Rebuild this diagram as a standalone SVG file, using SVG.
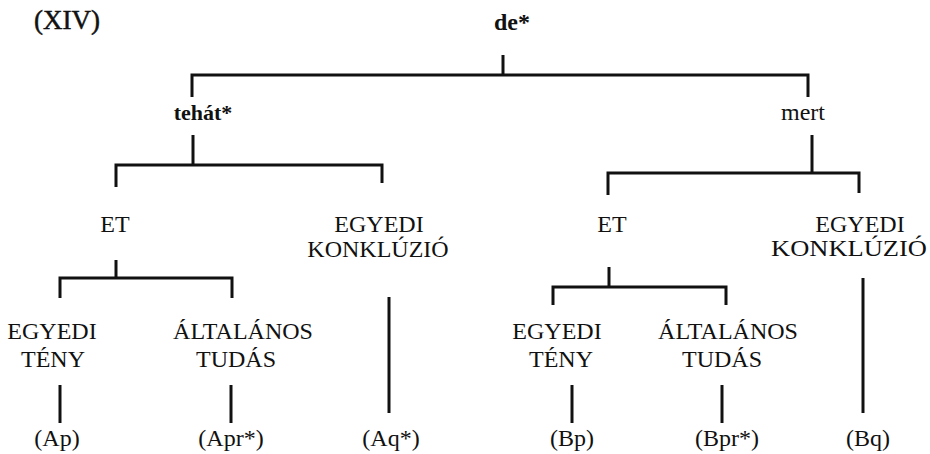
<svg xmlns="http://www.w3.org/2000/svg" width="930" height="454" viewBox="0 0 930 454">
<style>
  .t { font-family: "Liberation Serif", "Times New Roman", serif; font-size: 24px; fill: #111; text-anchor: middle; }
  .b { font-weight: bold; }
  .c line, .c polyline { stroke: #111; stroke-width: 3; fill: none; stroke-linecap: butt; stroke-linejoin: miter; }
</style>
<rect width="930" height="454" fill="#fff"/>
<g id="connectors" class="c">
  <line x1="503" y1="55" x2="503" y2="75"/>
  <polyline points="192,97 192,75 808,75 808,97"/>
  <line x1="193" y1="135" x2="193" y2="165"/>
  <polyline points="116,187 116,165 382,165 382,183"/>
  <line x1="812" y1="135" x2="812" y2="173"/>
  <polyline points="608,195 608,173 859,173 859,193"/>
  <line x1="116" y1="260" x2="116" y2="278"/>
  <polyline points="60,298 60,278 232,278 232,298"/>
  <line x1="609" y1="267" x2="609" y2="287"/>
  <polyline points="553,305 553,287 726,287 726,305"/>
  <line x1="389" y1="297" x2="389" y2="413"/>
  <line x1="863" y1="278" x2="863" y2="413"/>
  <line x1="60" y1="385" x2="60" y2="423"/>
  <line x1="231" y1="385" x2="231" y2="423"/>
  <line x1="572" y1="385" x2="572" y2="423"/>
  <line x1="722" y1="385" x2="722" y2="423"/>
</g>
<g id="label-xiv"><text class="t" x="67" y="29" style="font-size:27px;stroke:#111;stroke-width:0.5">(XIV)</text></g>
<g id="node-de"><text class="t b" x="512" y="30">de*</text></g>
<g id="node-tehat"><text class="t b" x="203" y="120" style="font-size:22px">tehát*</text></g>
<g id="node-mert"><text class="t" x="803" y="120">mert</text></g>
<g id="node-et-left"><text class="t" x="115" y="232">ET</text></g>
<g id="node-konkl-left"><text class="t" x="379" y="232">EGYEDI</text><text class="t" x="378" y="257">KONKLÚZIÓ</text></g>
<g id="node-et-right"><text class="t" x="612" y="232">ET</text></g>
<g id="node-konkl-right"><text class="t" x="860" y="232">EGYEDI</text><text class="t" x="849" y="256" textLength="156" lengthAdjust="spacingAndGlyphs">KONKLÚZIÓ</text></g>
<g id="node-teny-left"><text class="t" x="52" y="339">EGYEDI</text><text class="t" x="53" y="367">TÉNY</text></g>
<g id="node-tudas-left"><text class="t" x="243" y="339">ÁLTALÁNOS</text><text class="t" x="236" y="367">TUDÁS</text></g>
<g id="node-teny-right"><text class="t" x="557" y="339">EGYEDI</text><text class="t" x="561" y="367">TÉNY</text></g>
<g id="node-tudas-right"><text class="t" x="728" y="339">ÁLTALÁNOS</text><text class="t" x="722" y="367">TUDÁS</text></g>
<g id="leaf-ap"><text class="t" x="57" y="446">(Ap)</text></g>
<g id="leaf-apr"><text class="t" x="231" y="446">(Apr*)</text></g>
<g id="leaf-aq"><text class="t" x="391" y="446">(Aq*)</text></g>
<g id="leaf-bp"><text class="t" x="572" y="446">(Bp)</text></g>
<g id="leaf-bpr"><text class="t" x="727" y="446">(Bpr*)</text></g>
<g id="leaf-bq"><text class="t" x="868" y="446">(Bq)</text></g>
</svg>
